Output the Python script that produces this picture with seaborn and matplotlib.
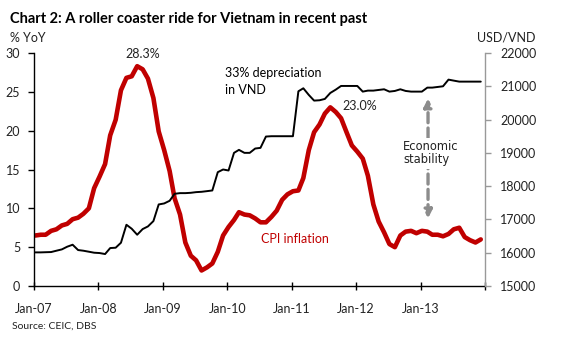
import numpy as np
import pandas as pd
import matplotlib
matplotlib.use("Agg")
import matplotlib.pyplot as plt
import matplotlib.dates as mdates
import seaborn as sns

# ---------------- data ----------------
start_month = "2007-01-01"
n_months = 84
cpi_yoy = [
    6.5, 6.6, 6.6, 7.1, 7.3, 7.8, 8.0, 8.6, 8.8, 9.3, 10.0, 12.6,      # 2007
    14.1, 15.7, 19.4, 21.4, 25.2, 26.8, 27.0, 28.3, 27.9, 26.7, 24.2, 19.9,  # 2008
    17.5, 14.8, 11.3, 9.2, 5.6, 3.9, 3.3, 2.0, 2.4, 2.9, 4.4, 6.5,     # 2009
    7.6, 8.5, 9.5, 9.2, 9.1, 8.7, 8.2, 8.2, 8.9, 9.7, 11.1, 11.8,      # 2010
    12.2, 12.3, 13.9, 17.5, 19.8, 20.8, 22.2, 23.0, 22.4, 21.6, 19.8, 18.1,  # 2011
    17.3, 16.4, 14.2, 10.5, 8.3, 6.9, 5.4, 5.0, 6.5, 7.0, 7.1, 6.8,    # 2012
    7.1, 7.0, 6.6, 6.6, 6.4, 6.7, 7.3, 7.5, 6.3, 5.9, 5.6, 6.0,        # 2013
]
usd_vnd = [
    16010, 16010, 16015, 16020, 16060, 16100, 16180, 16240, 16080, 16060, 16030, 16000,  # 2007
    15990, 15960, 16140, 16150, 16300, 16840, 16720, 16540, 16710, 16790, 16950, 17450,  # 2008
    17480, 17560, 17770, 17790, 17790, 17800, 17820, 17830, 17850, 17870, 18420, 18500,  # 2009
    18470, 19000, 19090, 19000, 19000, 19130, 19150, 19490, 19500, 19500, 19500, 19500,  # 2010
    19500, 20850, 20940, 20740, 20570, 20580, 20620, 20800, 20900, 21010, 21010, 21010,  # 2011
    21010, 20840, 20870, 20870, 20890, 20910, 20840, 20860, 20910, 20860, 20840, 20840,  # 2012
    20840, 20960, 20960, 20980, 21000, 21200, 21170, 21140, 21140, 21140, 21140, 21140,  # 2013
]
tick_years = [2007, 2008, 2009, 2010, 2011, 2012, 2013, 2014]
tick_labels = ["Jan-07", "Jan-08", "Jan-09", "Jan-10", "Jan-11", "Jan-12", "Jan-13", ""]

dates = pd.date_range(start_month, periods=n_months, freq="MS") + pd.Timedelta(days=7)
df = pd.DataFrame({"date": dates, "cpi": cpi_yoy, "fx": usd_vnd})

# ---------------- style ----------------
sns.set_theme(style="white")
plt.rcParams["font.family"] = ["Lato", "DejaVu Sans"]

RED = "#C00000"
fig = plt.figure(figsize=(5.63, 3.43), dpi=100)
ax = fig.add_axes([34 / 563, 1 - 286 / 343, 451 / 563, 233 / 343])
ax2 = ax.twinx()

sns.lineplot(data=df, x="date", y="cpi", ax=ax, color=RED, linewidth=3.3)
sns.lineplot(data=df, x="date", y="fx", ax=ax2, color="black", linewidth=1.4)

ax.set_xlim(pd.Timestamp("2007-01-01"), pd.Timestamp("2014-01-01"))
ax.set_ylim(0, 30)
ax2.set_ylim(15000, 22000)
ax.set_yticks(range(0, 31, 5))
ax2.set_yticks(range(15000, 22001, 1000))
ax.set_xticks([pd.Timestamp(f"{y}-01-01") for y in tick_years])
ax.set_xticklabels(tick_labels)
for a in (ax, ax2):
    a.set_xlabel("")
    a.set_ylabel("")

ax.spines["top"].set_visible(False)
ax2.spines["top"].set_visible(False)
ax.spines["right"].set_visible(False)
ax2.spines["left"].set_visible(False)
ax2.spines["bottom"].set_visible(False)
for s in ("left", "bottom"):
    ax.spines[s].set_color("black")
    ax.spines[s].set_linewidth(1.0)
ax2.spines["right"].set_color("#999999")
ax2.spines["right"].set_linewidth(1.0)

ax.tick_params(axis="y", left=True, direction="out", length=4, width=1, color="black",
               labelsize=9, pad=6, labelcolor="#222222")
ax.tick_params(axis="x", bottom=True, direction="inout", length=6, width=1, color="black",
               labelsize=9, pad=9, labelcolor="#222222")
ax2.tick_params(axis="y", right=True, direction="out", length=4, width=1, color="#999999",
                labelsize=9, pad=7, labelcolor="#222222")

# ---------------- annotations ----------------
ax.text(pd.Timestamp("2008-09-10"), 29.9, "28.3%", ha="center", va="center", fontsize=9, color="#222222")
ax.text(pd.Timestamp("2011-10-15"), 23.2, "23.0%", ha="left", va="center", fontsize=9, color="#222222")
ax.text(pd.Timestamp("2009-12-21"), 26.3, "33% depreciation\nin VND", ha="left", va="center",
        fontsize=9, color="black", linespacing=1.45)
ax.text(pd.Timestamp("2010-07-10"), 6.0, "CPI inflation", ha="left", va="center",
        fontsize=9, color=RED)

ax.annotate("", xy=(pd.Timestamp("2013-02-12"), 24.15), xytext=(pd.Timestamp("2013-02-12"), 8.7),
            arrowprops=dict(arrowstyle="<|-|>", color="#8c8c8c", lw=2.4, linestyle=(0, (3, 1.6)),
                            mutation_scale=12, shrinkA=0, shrinkB=0))
ax.text(pd.Timestamp("2012-09-24"), 17.1, "Economic\nstability", ha="left", va="center",
        fontsize=8.3, color="#222222", linespacing=0.95, family=["DejaVu Sans"],
        bbox=dict(facecolor="white", edgecolor="none", pad=2))

fig.text(10 / 563, 1 - 18.5 / 343, "Chart 2: A roller coaster ride for Vietnam in recent past",
         ha="left", va="center", fontsize=10.5, fontweight="bold", color="black")
fig.text(10 / 563, 1 - 38 / 343, "% YoY", ha="left", va="center", fontsize=9, color="#222222")
fig.text(536 / 563, 1 - 38 / 343, "USD/VND", ha="right", va="center", fontsize=9, color="#222222")
fig.text(12 / 563, 1 - 326 / 343, "Source: CEIC, DBS", ha="left", va="center", fontsize=7.5, color="#222222")

fig.savefig("out.png", dpi=100, facecolor="white")
